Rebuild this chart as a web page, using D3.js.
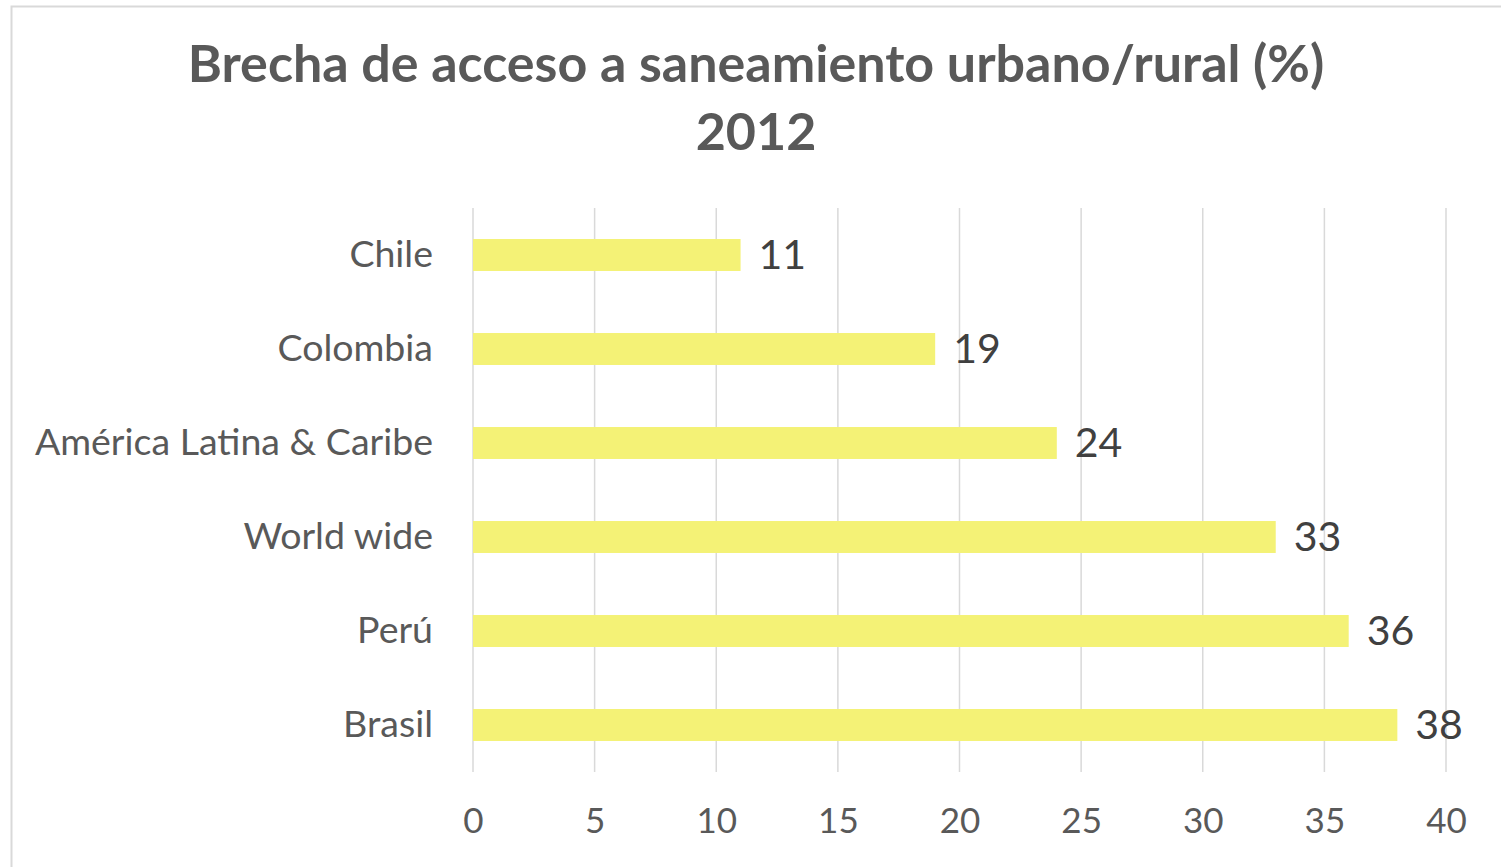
<!DOCTYPE html>
<html>
<head>
<meta charset="utf-8">
<script src="https://cdn.jsdelivr.net/npm/d3@7"></script>
<style>
  body { margin: 0; background: #fff; }
  svg { display: block; font-family: Lato, "Open Sans", sans-serif; }
</style>
</head>
<body>
<svg id="chart" width="1501" height="867"></svg>
<script>
// data
var categories = ['Chile', 'Colombia', 'América Latina & Caribe', 'World wide', 'Perú', 'Brasil'];
var values = [11, 19, 24, 33, 36, 38];
var xTicks = [0, 5, 10, 15, 20, 25, 30, 35, 40];

var svg = d3.select('#chart');
var W = 1501, H = 867;
var plotLeft = 473, plotRight = 1446, plotTop = 208, plotBottom = 772;

// chart border
svg.append('rect')
    .attr('x', 11.5).attr('y', 6.5)
    .attr('width', W + 20).attr('height', H + 20)
    .attr('fill', '#fff')
    .attr('stroke', '#d9d9d9')
    .attr('stroke-width', 2);

var x = d3.scaleLinear().domain([0, 40]).range([plotLeft, plotRight]);
var y = d3.scaleBand().domain(categories).range([plotTop, plotBottom]).paddingInner(0.66).paddingOuter(0.33);

// vertical gridlines
svg.append('g')
    .selectAll('line')
    .data(xTicks)
    .join('line')
    .attr('x1', d => x(d)).attr('x2', d => x(d))
    .attr('y1', plotTop).attr('y2', plotBottom)
    .attr('stroke', '#d9d9d9')
    .attr('stroke-width', 1.5);

// bars
svg.append('g')
    .selectAll('rect')
    .data(values)
    .join('rect')
    .attr('x', x(0))
    .attr('y', (d, i) => y(categories[i]))
    .attr('width', d => x(d) - x(0))
    .attr('height', y.bandwidth())
    .attr('fill', '#f4f276');

// value labels
svg.append('g')
    .selectAll('text')
    .data(values)
    .join('text')
    .attr('x', d => x(d) + 18)
    .attr('y', (d, i) => y(categories[i]) + y.bandwidth() / 2 + 4)
    .attr('dominant-baseline', 'middle')
    .attr('fill', '#404040')
    .style('font-size', '41px')
    .text(d => d);

// category axis
var yAxis = svg.append('g')
    .attr('transform', 'translate(' + plotLeft + ',0)')
    .call(d3.axisLeft(y).tickSize(0).tickPadding(40));
yAxis.select('.domain').remove();
yAxis.selectAll('text')
    .attr('fill', '#595959')
    .style('font-size', '37.5px')
    .style('font-family', 'Lato, "Open Sans", sans-serif');

// value axis
var xAxis = svg.append('g')
    .attr('transform', 'translate(0,' + plotBottom + ')')
    .call(d3.axisBottom(x).tickValues(xTicks).tickSize(0).tickPadding(36));
xAxis.select('.domain').remove();
xAxis.selectAll('text')
    .attr('fill', '#595959')
    .style('font-size', '35px')
    .style('font-family', 'Lato, "Open Sans", sans-serif');

// title
var title = svg.append('text')
    .attr('x', 756)
    .attr('text-anchor', 'middle')
    .attr('fill', '#595959')
    .style('font-size', '52px')
    .style('font-weight', 'bold');
title.append('tspan').attr('x', 756).attr('y', 82).text('Brecha de acceso a saneamiento urbano/rural (%)');
title.append('tspan').attr('x', 756).attr('y', 150).text('2012');
</script>
</body>
</html>
